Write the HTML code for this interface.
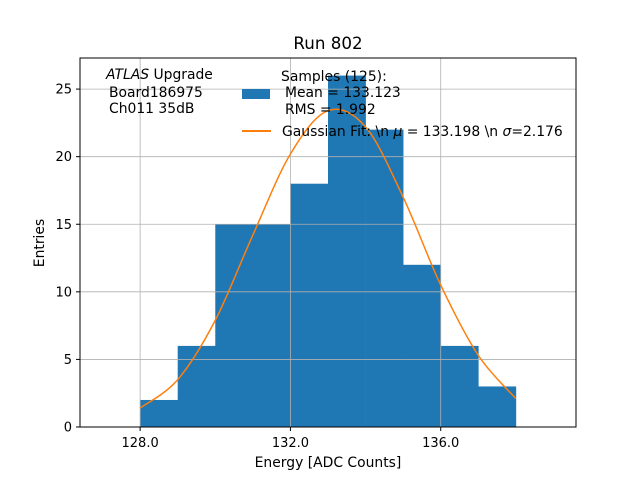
<!DOCTYPE html>
<html><head><meta charset="utf-8"><style>
body{margin:0;background:#fff}
svg{display:block;font-family:"DejaVu Sans","Liberation Sans",sans-serif}
</style></head><body>
<svg id="chart" width="640" height="480">
<text x="328" y="49" font-size="16.7" text-anchor="middle">Run 802</text>
<g id="bars"></g><g id="grid"></g><g id="curve"></g><g id="ticks"></g>
<rect x="80" y="58" width="496" height="369" fill="none" stroke="#000" stroke-width="1"/>
<text x="328" y="467" font-size="13.9" text-anchor="middle">Energy [ADC Counts]</text>
<text transform="translate(44,243) rotate(-90)" font-size="13.9" text-anchor="middle">Entries</text>
<g font-size="13.9">
<text x="106" y="79"><tspan font-style="italic">ATLAS</tspan> Upgrade</text>
<text x="109" y="97">Board186975</text>
<text x="109" y="113">Ch011 35dB</text>
</g>
<g font-size="13.9">
<text x="281" y="81">Samples (125):</text>
<rect x="242" y="89" width="28" height="10" fill="#1f77b4"/>
<text x="285" y="97">Mean = 133.123</text>
<text x="285" y="114">RMS = 1.992</text>
<line x1="242" y1="131" x2="271" y2="131" stroke="#ff7f0e" stroke-width="2"/>
<text x="282" y="136">Gaussian Fit: \n <tspan font-style="italic">μ</tspan> = 133.198 \n <tspan font-style="italic">σ</tspan>=2.176</text>
</g>
</svg>
<script>
const binEdges=[128,129,130,131,132,133,134,135,136,137];
const counts=[2,6,15,15,18,26,22,12,6,3];
const fitX=[128,129,130,131,132,133,134,135,136,137,138];
const fitY=[1.4,3.5,7.9,14.2,20.2,23.4,22.2,17.0,10.5,5.3,2.1];
const xTicks=[128.0,132.0,136.0];
const yTicks=[0,5,10,15,20,25];
const NS="http://www.w3.org/2000/svg";
const X=v=>80+(v-126.4)/(139.6-126.4)*496;
const Y=v=>427-v/27.3*369;
function mk(t,a,p){const e=document.createElementNS(NS,t);for(const k in a)e.setAttribute(k,a[k]);document.getElementById(p).appendChild(e);return e;}
binEdges.forEach((b,i)=>{
 const r=mk('rect',{x:X(b),y:Y(counts[i]),width:X(b+1)-X(b)+0.3,height:Y(0)-Y(counts[i]),fill:'#1f77b4'},'bars');
 
 
});
xTicks.forEach(t=>{
 const l=mk('line',{x1:X(t),x2:X(t),y1:58,y2:427,stroke:'#b0b0b0','stroke-width':0.8},'grid');
 
 
 mk('line',{x1:X(t),x2:X(t),y1:427,y2:431,stroke:'#000'},'ticks');
 const tx=mk('text',{x:X(t),y:447,'font-size':13,'text-anchor':'middle'},'ticks');
 tx.textContent=t.toFixed(1);
 
 
});
yTicks.forEach(t=>{
 const l=mk('line',{x1:80,x2:576,y1:Y(t),y2:Y(t),stroke:'#b0b0b0','stroke-width':0.8},'grid');
 
 
 mk('line',{x1:76,x2:80,y1:Y(t),y2:Y(t),stroke:'#000'},'ticks');
 const tx=mk('text',{x:72,y:Y(t)+4.5,'font-size':13,'text-anchor':'end'},'ticks');
 tx.textContent=t;
 
 
});
const P=fitX.map((x,i)=>[X(x),Y(fitY[i])]);
let d='M'+P[0][0]+','+P[0][1];
for(let i=0;i<P.length-1;i++){
 const p0=P[Math.max(0,i-1)],p1=P[i],p2=P[i+1],p3=P[Math.min(P.length-1,i+2)];
 d+=` C${p1[0]+(p2[0]-p0[0])/6},${p1[1]+(p2[1]-p0[1])/6} ${p2[0]-(p3[0]-p1[0])/6},${p2[1]-(p3[1]-p1[1])/6} ${p2[0]},${p2[1]}`;
}
const c=mk('path',{d:d,fill:'none',stroke:'#ff7f0e','stroke-width':1.5},'curve');


</script>
</body></html>
